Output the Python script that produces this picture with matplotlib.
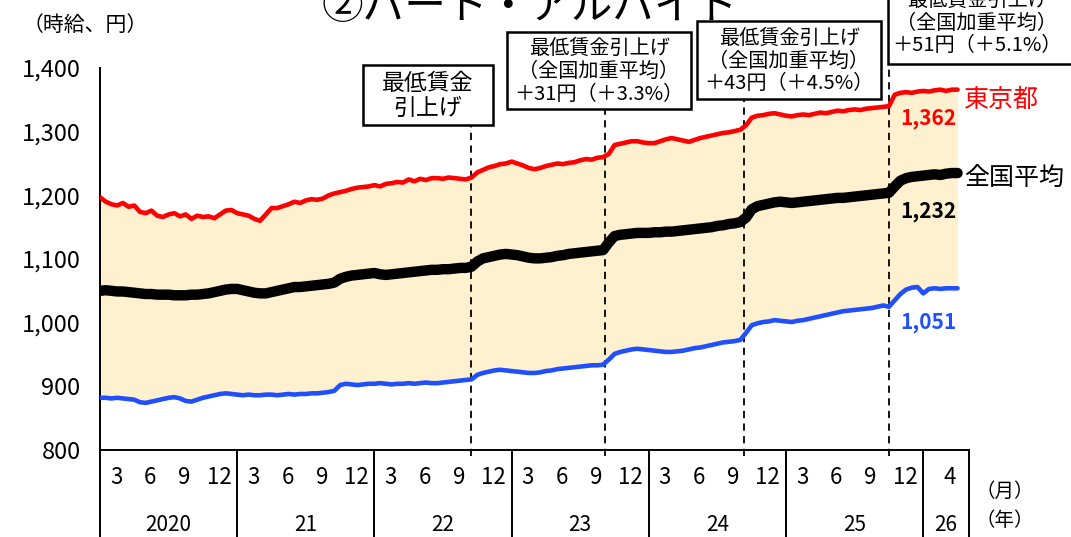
import numpy as np
import matplotlib
matplotlib.use('Agg')
import matplotlib.pyplot as plt
from matplotlib.patches import Rectangle

plt.rcParams['font.family'] = ['Noto Sans CJK JP', 'DejaVu Sans']

# ============================================================
# Data (semi-monthly readings, Jan 2020 - Apr 2026), yen/hour
# ============================================================
tokyo_2020 = [1197, 1190, 1186, 1184, 1188, 1182, 1184, 1174, 1172, 1176, 1168, 1166,
              1170, 1172, 1167, 1170, 1163, 1168, 1166, 1167, 1164, 1170, 1176, 1177]
tokyo_2021 = [1172, 1170, 1168, 1163, 1160, 1170, 1180, 1180, 1183, 1186, 1190, 1188,
              1192, 1194, 1193, 1195, 1200, 1203, 1205, 1207, 1210, 1212, 1213, 1214]
tokyo_2022 = [1216, 1214, 1218, 1219, 1221, 1220, 1225, 1222, 1226, 1224, 1227, 1227,
              1226, 1228, 1227, 1226, 1225, 1228, 1236, 1240, 1244, 1246, 1249, 1250]
tokyo_2023 = [1253, 1250, 1247, 1243, 1241, 1243, 1246, 1248, 1250, 1249, 1251, 1252,
              1255, 1257, 1256, 1259, 1260, 1265, 1279, 1281, 1283, 1285, 1285, 1283]
tokyo_2024 = [1282, 1282, 1285, 1288, 1290, 1288, 1286, 1284, 1287, 1290, 1292, 1294,
              1296, 1298, 1299, 1301, 1303, 1310, 1322, 1325, 1326, 1328, 1329, 1327]
tokyo_2025 = [1325, 1324, 1326, 1327, 1326, 1328, 1330, 1329, 1331, 1333, 1332, 1334,
              1335, 1334, 1336, 1337, 1338, 1339, 1340, 1358, 1361, 1362, 1361, 1363]
tokyo_2026 = [1364, 1363, 1365, 1366, 1364, 1366, 1366]

zenkoku_2020 = [1050, 1051, 1050, 1049, 1049, 1048, 1047, 1046, 1045, 1045, 1044, 1044,
                1044, 1043, 1043, 1043, 1044, 1044, 1045, 1046, 1048, 1050, 1052, 1053]
zenkoku_2021 = [1053, 1051, 1049, 1047, 1046, 1046, 1048, 1050, 1052, 1054, 1056, 1056,
                1057, 1058, 1059, 1060, 1061, 1063, 1069, 1072, 1074, 1075, 1076, 1077]
zenkoku_2022 = [1078, 1076, 1075, 1076, 1077, 1078, 1079, 1080, 1081, 1082, 1083, 1083,
                1084, 1084, 1085, 1086, 1086, 1088, 1096, 1101, 1103, 1105, 1107, 1108]
zenkoku_2023 = [1107, 1106, 1104, 1102, 1101, 1101, 1102, 1103, 1105, 1106, 1108, 1109,
                1110, 1111, 1112, 1113, 1114, 1126, 1136, 1138, 1139, 1140, 1141, 1141]
zenkoku_2024 = [1141, 1142, 1142, 1143, 1143, 1144, 1145, 1146, 1147, 1148, 1149, 1150,
                1152, 1153, 1155, 1156, 1158, 1165, 1178, 1183, 1185, 1187, 1189, 1190]
zenkoku_2025 = [1189, 1188, 1189, 1190, 1191, 1192, 1193, 1194, 1195, 1196, 1196, 1197,
                1198, 1199, 1200, 1201, 1202, 1203, 1204, 1214, 1223, 1227, 1229, 1230]
zenkoku_2026 = [1231, 1232, 1233, 1232, 1234, 1235, 1235]

min_2020 = [882, 882, 881, 882, 881, 880, 879, 875, 874, 876, 878, 880,
            882, 883, 881, 877, 876, 879, 882, 884, 886, 888, 889, 888]
min_2021 = [887, 886, 887, 886, 886, 887, 887, 886, 887, 888, 887, 888,
            888, 889, 889, 890, 891, 893, 902, 904, 903, 902, 903, 904]
min_2022 = [904, 905, 904, 903, 904, 904, 905, 904, 905, 906, 905, 905,
            906, 907, 908, 909, 910, 911, 918, 921, 923, 925, 926, 925]
min_2023 = [924, 923, 922, 921, 921, 922, 924, 925, 927, 928, 929, 930,
            931, 932, 933, 933, 934, 942, 951, 954, 956, 958, 959, 958]
min_2024 = [957, 956, 955, 954, 954, 955, 956, 958, 960, 961, 963, 965,
            967, 969, 970, 971, 973, 984, 996, 999, 1001, 1002, 1004, 1003]
min_2025 = [1002, 1001, 1003, 1004, 1006, 1008, 1010, 1012, 1014, 1016, 1018, 1019,
            1020, 1021, 1022, 1023, 1025, 1027, 1025, 1035, 1045, 1052, 1055, 1056]
min_2026 = [1046, 1053, 1054, 1053, 1054, 1054, 1054]

tokyo = tokyo_2020 + tokyo_2021 + tokyo_2022 + tokyo_2023 + tokyo_2024 + tokyo_2025 + tokyo_2026
zenkoku = zenkoku_2020 + zenkoku_2021 + zenkoku_2022 + zenkoku_2023 + zenkoku_2024 + zenkoku_2025 + zenkoku_2026
saitei = min_2020 + min_2021 + min_2022 + min_2023 + min_2024 + min_2025 + min_2026

# x = months since Jan 2020 (half-month steps)
x = np.arange(len(tokyo)) * 0.5

years = ['2020', '21', '22', '23', '24', '25', '26']
month_ticks = ['3', '6', '9', '12']
yticks = [800, 900, 1000, 1100, 1200, 1300, 1400]
ytick_labels = ['800', '900', '1,000', '1,100', '1,200', '1,300', '1,400']

# minimum-wage raise dates (months since Jan 2020)
raise_x = [32.46, 44.2, 56.3, 69.0]
raise_texts = ['最低賃金\n引上げ',
               '最低賃金引上げ\n（全国加重平均）\n＋31円（＋3.3%）',
               '最低賃金引上げ\n（全国加重平均）\n＋43円（＋4.5%）',
               '最低賃金引上げ\n（全国加重平均）\n＋51円（＋5.1%）']

# ============================================================
# Figure
# ============================================================
W, H = 1071, 537
fig = plt.figure(figsize=(W / 100, H / 100), dpi=100)


def fx(px):
    return px / W


def fy(py):
    return 1 - py / H


ax = fig.add_axes([fx(100), fy(450), fx(969) - fx(100), fy(68) - fy(450)])
XMAX = 76
ax.set_xlim(0, XMAX)
ax.set_ylim(800, 1400)

ax.fill_between(x, saitei, tokyo, color='#FFF1CF', lw=0, zorder=1)
ax.plot(x, tokyo, color='#FF0000', lw=3.3, solid_capstyle='round', zorder=3)
ax.plot(x, saitei, color='#1F4FFF', lw=3.3, solid_capstyle='round', zorder=3)
ax.plot(x, zenkoku, color='black', lw=7.5, solid_capstyle='round', zorder=4)

for s in ['top', 'right']:
    ax.spines[s].set_visible(False)
for s in ['left', 'bottom']:
    ax.spines[s].set_linewidth(1.4)
    ax.spines[s].set_color('black')

ax.set_yticks(yticks)
ax.set_yticklabels(ytick_labels, fontsize=17)
ax.tick_params(axis='y', length=0, pad=14)
ax.set_xticks([])

fig.text(fx(85), fy(25), '（時給、円）', fontsize=15, ha='center', va='center')

# bottom category table
trans = ax.get_xaxis_transform()
for k in range(len(years)):
    ax.plot([k * 12, k * 12], [0, -0.26], color='black', lw=1.4, transform=trans, clip_on=False)
ax.plot([XMAX, XMAX], [0, -0.26], color='black', lw=1.4, transform=trans, clip_on=False)
for k, yr in enumerate(years):
    if k < 6:
        for m in month_ticks:
            ax.text(k * 12 + int(m) - 1.6, -0.073, m, transform=trans, ha='center', va='center', fontsize=16)
        ax.text(k * 12 + 6, -0.197, yr, transform=trans, ha='center', va='center', fontsize=15)
    else:
        ax.text(k * 12 + 4 - 1.7, -0.073, '4', transform=trans, ha='center', va='center', fontsize=16)
        ax.text((k * 12 + XMAX) / 2, -0.197, yr, transform=trans, ha='center', va='center', fontsize=15)
fig.text(fx(1005), fy(491), '（月）', fontsize=14, ha='center', va='center')
fig.text(fx(1005), fy(521), '（年）', fontsize=14, ha='center', va='center')

# annotation boxes (pixel layout: left, top, right, bottom)
boxes = [(363, 65, 493, 125), (507, 32, 691, 109), (697, 21, 881, 99), (888, -20, 1090, 64)]
font_sizes = [16.5, 14.5, 14.5, 14.5]
for bx, txt, fs, xr in zip(boxes, raise_texts, font_sizes, raise_x):
    l, t, r, b = bx
    fig.patches.append(Rectangle((fx(l), fy(b)), fx(r) - fx(l), fy(t) - fy(b),
                                 transform=fig.transFigure, fill=True, facecolor='white',
                                 edgecolor='black', lw=1.8, zorder=5))
    cx = (l + r) / 2 if r < 1071 else 977
    fig.text(fx(cx), fy((t + b) / 2 + 1), txt, fontsize=fs, ha='center', va='center',
             linespacing=1.12, zorder=6)
    ytop = (450 - b) / 382
    ax.plot([xr, xr], [-0.015, ytop], color='black', lw=1.3, ls=(0, (4, 3)),
            transform=trans, clip_on=False, zorder=2)

# title (clipped by the top of the image)
fig.text(fx(530), fy(7), '②パート・アルバイト', fontsize=30, ha='center', va='center')

# series labels
ax.text(75.6, 1350, '東京都', color='#FF0000', fontsize=18, ha='left', va='center')
ax.text(75.6, 1228, '全国平均', color='black', fontsize=18, ha='left', va='center')
ax.text(74.9, 1321, '1,362', color='#FF0000', fontsize=15, fontweight='bold', ha='right', va='center')
ax.text(74.9, 1175, '1,232', color='black', fontsize=15, fontweight='bold', ha='right', va='center')
ax.text(74.9, 1001, '1,051', color='#1F4FFF', fontsize=15, fontweight='bold', ha='right', va='center')

fig.savefig('out.png', dpi=100)
